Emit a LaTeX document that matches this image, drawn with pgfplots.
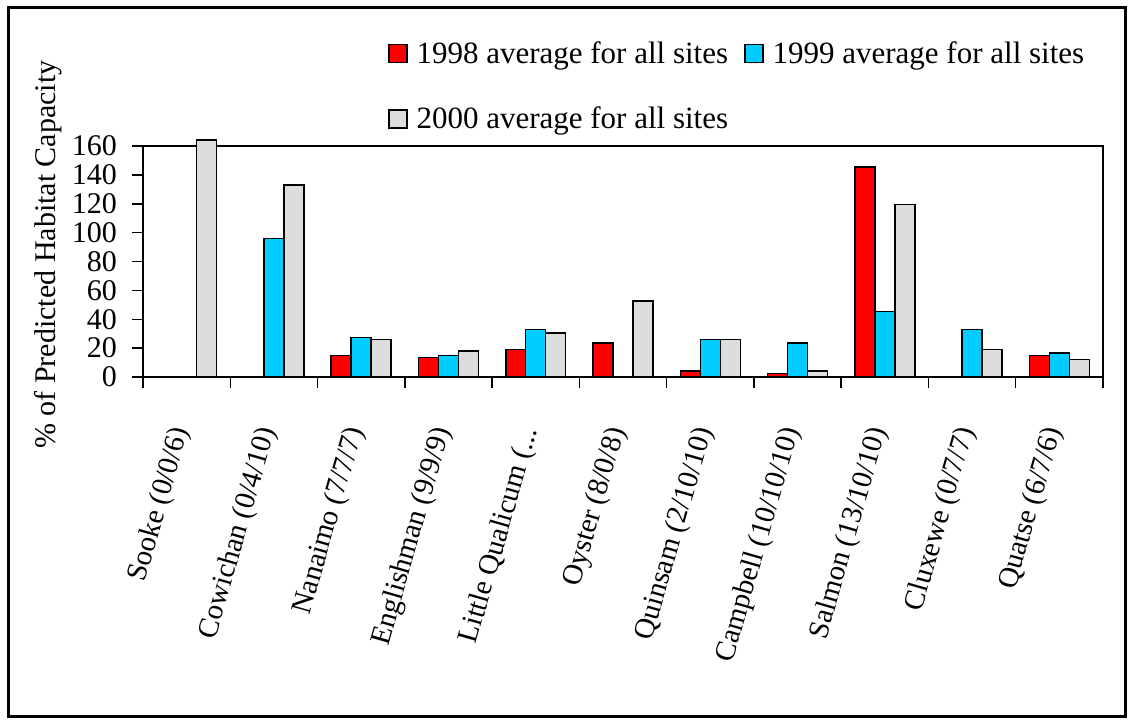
\documentclass[border=0pt]{standalone}
\usepackage{pgfplots}
\pgfplotsset{compat=1.18}
\usepackage{fontspec}
\setmainfont{Liberation Serif}
\definecolor{cRed}{HTML}{FF0000}
\definecolor{cBlue}{HTML}{00CCFF}
\definecolor{cGrey}{HTML}{DDDDDD}
\newcommand{\lqlabel}{Little Qualicum (.{}.{}.}
\begin{document}
\begin{tikzpicture}
\useasboundingbox (0,0) rectangle (1132pt,724pt);
\begin{axis}[
  at={(143pt,347pt)}, anchor=south west,
  scale only axis, width=960pt, height=231pt,
  xmin=-0.5, xmax=10.5, ymin=0, ymax=160,
  clip=false,
  axis line style={line width=1.5pt},
  tick pos=left, tick align=outside,
  major tick style={line width=1.5pt, black},
  major tick length=11pt,
  xtick={-0.5,0.5,...,10.5}, xticklabels={},
  ytick={0,20,...,160},
  yticklabel={\pgfmathprintnumber{\tick}\hspace*{14pt}},
  /pgf/number format/assume math mode=true,
  yticklabel style={font=\fontsize{30}{36}\selectfont, inner sep=1pt, anchor=east},
  extra x ticks={0,1,2,3,4,5,6,7,8,9,10},
  extra x tick labels={Sooke (0/0/6),Cowichan (0/4/10),Nanaimo (7/7/7),Englishman (9/9/9),{\lqlabel},Oyster (8/0/8),Quinsam (2/10/10),Campbell (10/10/10),Salmon (13/10/10),Cluxewe (0/7/7),Quatse (6/7/6)},
  extra x tick style={major tick length=0pt,
     xticklabel style={font=\fontsize{29}{36}\selectfont, xshift=-4pt, yshift=-48pt, rotate=74, anchor=east}},
  ylabel={\% of Predicted Habitat Capacity},
  ylabel style={font=\fontsize{30}{36}\selectfont, at={(axis description cs:-0.099,0.53)}, anchor=center},
  legend columns=2,
  legend cell align=left,
  legend style={draw=none, fill=none, font=\fontsize{31}{36}\selectfont,
     at={(axis description cs:0.255,1.478)}, anchor=north west,
     nodes={inner sep=6pt},
     /tikz/every odd column/.append style={column sep=3pt},
     /tikz/every even column/.append style={column sep=10pt},
     row sep=30pt, inner sep=0pt},
]
\addplot[ybar, bar width=0.229, bar shift=-0.229, fill=cRed, draw=black, line width=1.5pt,
  legend image code/.code={\draw[fill=cRed, draw=black, line width=1.5pt] (0pt,-9pt) rectangle (18pt,9pt);}]
  coordinates {(2,15) (3,13.5) (4,19) (5,23.5) (6,4) (7,2.3) (8,145.5) (10,15)};
\addlegendentry{1998 average for all sites}
\addplot[ybar, bar width=0.229, bar shift=0, fill=cBlue, draw=black, line width=1.5pt,
  legend image code/.code={\draw[fill=cBlue, draw=black, line width=1.5pt] (0pt,-9pt) rectangle (18pt,9pt);}]
  coordinates {(1,96) (2,27.5) (3,15) (4,33) (6,26) (7,23.4) (8,45.5) (9,33) (10,16.5)};
\addlegendentry{1999 average for all sites}
\addplot[ybar, bar width=0.229, bar shift=0.229, fill=cGrey, draw=black, line width=1.5pt,
  legend image code/.code={\draw[fill=cGrey, draw=black, line width=1.5pt] (0pt,-9pt) rectangle (18pt,9pt);}]
  coordinates {(0,164) (1,133) (2,26) (3,18) (4,30.5) (5,52.5) (6,26) (7,4) (8,119.5) (9,19) (10,12)};
\addlegendentry{2000 average for all sites}
\end{axis}
\draw[line width=3pt] (8pt,8pt) rectangle (1125pt,716pt);
\end{tikzpicture}
\end{document}
